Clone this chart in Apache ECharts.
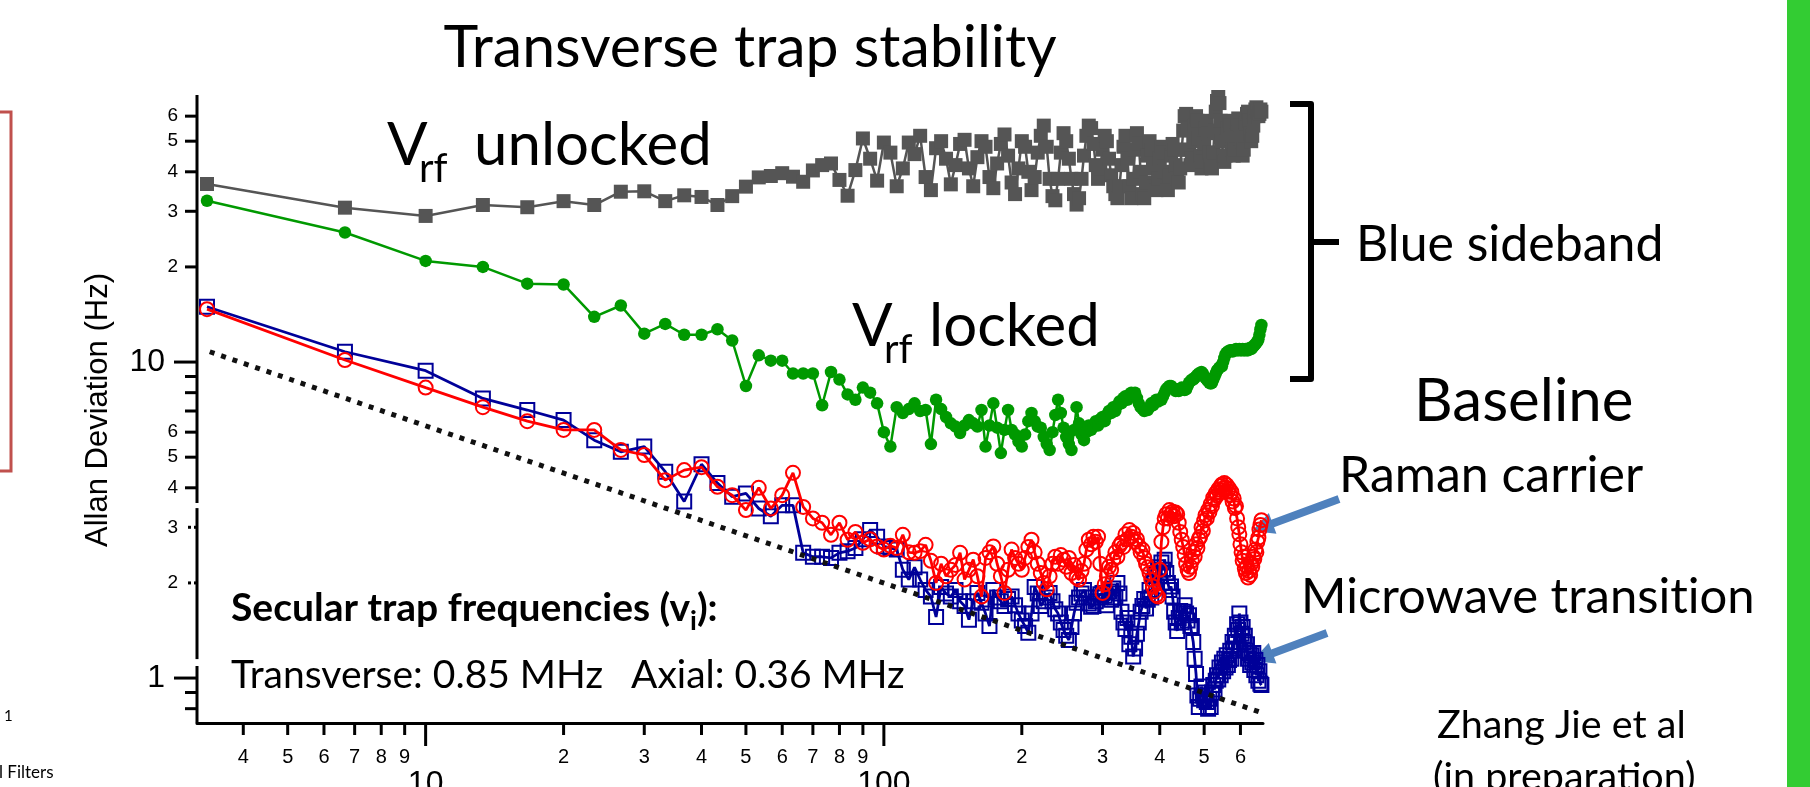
<!DOCTYPE html>
<html>
<head>
<meta charset="utf-8">
<title>Transverse trap stability</title>
<script src="https://cdn.jsdelivr.net/npm/echarts@6/dist/echarts.min.js"></script>
<style>
  html, body { margin: 0; padding: 0; background: #ffffff; }
  #chart { width: 1810px; height: 787px; }
</style>
</head>
<body>
<div id="chart"></div>
<script>
// Averaging time step (s); the k-th point of every curve sits at k * TAU0.
const TAU0 = 10 / 3;

// Allan deviation (Hz), blue sideband with the RF voltage free running
const unlockedSideband = [
  36.6, 30.8, 29.0, 31.4, 30.9, 32.3, 31.4, 34.6, 34.7, 32.3,
  33.7, 33.3, 31.4, 33.5, 35.9, 38.4, 38.8, 39.6, 38.6, 37.2,
  40.4, 42.0, 42.5, 37.7, 33.6, 40.5, 51.0, 44.0, 37.5, 49.5,
  46.0, 36.0, 41.0, 49.5, 45.5, 52.0, 38.5, 35.0, 47.5, 50.0,
  44.0, 36.5, 42.0, 49.0, 50.5, 41.0, 36.0, 44.5, 50.0, 48.0,
  38.5, 35.5, 42.5, 49.0, 52.5, 45.0, 37.0, 34.0, 41.0, 50.0,
  48.0, 40.0, 35.0, 38.5, 46.0, 52.0, 56.0, 48.0, 38.0, 33.5,
  32.5, 38.0, 46.0, 53.0, 50.0, 44.0, 38.0, 34.0, 31.5, 33.0,
  38.0, 45.0, 52.0, 56.0, 55.0, 49.0, 42.0, 38.0, 41.0, 47.0,
  52.0, 50.0, 44.0, 39.0, 36.0, 34.0, 33.0, 36.0, 42.0, 48.0,
  52.0, 44.0, 36.0, 33.0, 38.0, 47.0, 53.0, 49.0, 40.0, 34.0,
  33.0, 37.0, 45.0, 50.0, 47.0, 41.0, 36.0, 35.0, 38.0, 44.0,
  48.0, 46.0, 40.0, 36.0, 35.0, 39.0, 45.0, 49.0, 47.0, 42.0,
  38.0, 37.0, 41.0, 47.0, 54.0, 60.0, 61.0, 55.0, 47.0, 42.0,
  44.0, 50.0, 56.0, 60.0, 58.0, 51.0, 45.0, 41.0, 43.0, 49.0,
  55.0, 58.0, 53.0, 46.0, 42.0, 41.0, 46.0, 54.0, 62.0, 67.0,
  69.0, 66.0, 58.0, 50.0, 45.0, 43.0, 45.0, 50.0, 55.0, 58.0,
  56.0, 51.0, 47.0, 45.0, 47.0, 52.0, 57.0, 59.0, 56.0, 51.0,
  47.0, 45.0, 47.0, 52.0, 57.0, 61.0, 62.0, 58.0, 53.0, 50.0,
  52.0, 56.0, 60.0, 63.0, 64.0, 62.0, 60.0, 61.0, 63.0, 62.0
];

// Allan deviation (Hz), blue sideband with the RF voltage locked
const lockedSideband = [
  32.4, 25.7, 20.9, 20.0, 17.7, 17.6, 13.9, 15.1, 12.3, 13.2,
  12.2, 12.2, 12.7, 11.7, 8.4, 10.5, 10.1, 10.1, 9.2, 9.2,
  9.2, 7.3, 9.3, 8.8, 7.9, 7.6, 8.3, 8.0, 7.4, 6.0,
  5.4, 7.2, 6.9, 7.1, 7.4, 7.0, 7.05, 5.5, 7.6, 7.1,
  6.7, 6.4, 6.25, 5.96, 6.3, 6.55, 6.4, 6.25, 7.05, 5.4,
  6.3, 7.4, 6.2, 5.15, 6.1, 7.05, 6.1, 5.9, 5.6, 5.4,
  5.9, 6.5, 6.9, 6.5, 6.25, 6.2, 5.8, 5.5, 5.27, 6.0,
  6.8, 7.6, 6.9, 6.2, 5.8, 5.5, 5.27, 6.1, 7.2, 6.4,
  5.9, 5.66, 6.0, 6.3, 6.1, 6.25, 6.5, 6.3, 6.6, 6.7,
  6.5, 6.8, 7.0, 6.9, 7.2, 7.0, 7.3, 7.5, 7.4, 7.7,
  7.8, 7.6, 7.9, 8.0, 7.8, 8.0, 7.7, 7.4, 7.2, 7.1,
  7.0, 7.1, 7.05, 7.2, 7.4, 7.3, 7.5, 7.6, 7.5, 7.6,
  7.6, 7.8, 8.0, 8.2, 8.3, 8.4, 8.4, 8.3, 8.2, 8.1,
  8.2, 8.1, 8.2, 8.3, 8.2, 8.15, 8.2, 8.4, 8.6, 8.7,
  8.8, 8.8, 8.9, 9.0, 9.1, 9.2, 9.2, 9.3, 9.2, 9.0,
  8.9, 8.8, 8.7, 8.6, 8.55, 8.6, 8.8, 9.0, 9.2, 9.4,
  9.5, 9.6, 9.7, 9.7, 10.0, 10.3, 10.6, 10.7, 10.8, 10.8,
  10.9, 10.9, 10.8, 10.9, 10.9, 11.0, 10.9, 10.9, 11.0, 10.9,
  10.9, 11.0, 10.9, 10.9, 11.0, 10.9, 10.9, 11.0, 11.1, 11.0,
  11.1, 11.2, 11.3, 11.4, 11.5, 11.6, 11.8, 12.2, 12.7, 13.1
];

// Allan deviation (Hz), microwave transition
const microwaveTransition = [
  14.96, 10.78, 9.39, 7.67, 7.05, 6.55, 5.66, 5.2, 5.4, 4.5,
  3.62, 4.75, 4.14, 3.75, 3.84, 3.44, 3.25, 3.52, 3.52, 2.49,
  2.42, 2.42, 2.4, 2.49, 2.52, 2.58, 2.75, 2.94, 2.8, 2.61,
  2.58, 2.55, 2.2, 2.05, 2.24, 2.05, 1.9, 1.81, 1.56, 1.94,
  1.85, 1.81, 1.9, 1.75, 1.69, 1.53, 1.75, 1.86, 1.73, 1.6,
  1.46, 1.9, 1.8, 1.75, 1.69, 1.78, 1.81, 1.7, 1.6, 1.52,
  1.46, 1.39, 1.6, 1.94, 1.85, 1.69, 1.75, 1.8, 1.86, 1.75,
  1.65, 1.6, 1.5, 1.42, 1.36, 1.32, 1.45, 1.6, 1.73, 1.8,
  1.85, 1.9, 1.8, 1.72, 1.68, 1.69, 1.75, 1.8, 1.84, 1.86,
  1.82, 1.7, 1.88, 1.77, 1.92, 1.8, 2.0, 1.85, 1.62, 1.5,
  1.43, 1.55, 1.28, 1.35, 1.17, 1.24, 1.38, 1.5, 1.62, 1.69,
  1.78, 1.66, 1.77, 1.9, 1.8, 2.0, 2.12, 1.95, 2.24, 2.1,
  2.32, 2.2, 2.37, 2.15, 2.0, 1.9, 1.95, 1.81, 1.62, 1.5,
  1.41, 1.55, 1.63, 1.5, 1.62, 1.7, 1.6, 1.52, 1.58, 1.46,
  1.46, 1.3, 1.15, 1.03, 0.88, 0.81, 0.86, 0.94, 0.88, 0.85,
  0.9, 0.84, 0.8, 0.86, 0.81, 0.9, 0.95, 0.92, 0.98, 1.02,
  0.99, 1.08, 1.02, 1.12, 1.05, 1.15, 1.08, 1.18, 1.1, 1.14,
  1.22, 1.15, 1.3, 1.24, 1.36, 1.3, 1.48, 1.42, 1.6, 1.5,
  1.38, 1.45, 1.3, 1.36, 1.22, 1.28, 1.15, 1.2, 1.1, 1.18,
  1.12, 1.2, 1.06, 1.14, 1.02, 1.1, 0.98, 1.05, 0.96, 0.95
];

// Allan deviation (Hz), Raman carrier
const ramanCarrier = [
  14.7, 10.15, 8.3, 7.2, 6.5, 6.1, 6.1, 5.27, 5.08, 4.23,
  4.55, 4.65, 4.03, 3.79, 3.4, 4.0, 3.44, 3.79, 4.46, 3.48,
  3.2, 3.1, 2.84, 3.1, 2.74, 2.9, 2.68, 2.75, 2.61, 2.55,
  2.62, 2.58, 2.84, 2.5, 2.49, 2.52, 2.64, 2.35, 2.0, 2.3,
  2.1, 2.2, 2.28, 2.49, 2.05, 2.2, 2.37, 2.1, 1.81, 2.4,
  2.5, 2.61, 2.3, 2.1, 1.86, 2.2, 2.55, 2.4, 2.3, 2.2,
  2.4, 2.6, 2.74, 2.5, 2.3, 2.15, 2.0, 1.91, 2.1, 2.3,
  2.42, 2.3, 2.45, 2.37, 2.25, 2.4, 2.15, 2.28, 2.08, 2.05,
  2.18, 2.3, 2.55, 2.74, 2.65, 2.8, 2.7, 2.8, 2.3, 1.86,
  1.98, 2.1, 2.25, 2.2, 2.37, 2.5, 2.42, 2.62, 2.68, 2.6,
  2.85, 2.75, 2.94, 2.8, 2.88, 2.7, 2.75, 2.62, 2.5, 2.55,
  2.4, 2.3, 2.24, 2.15, 2.05, 1.95, 1.88, 1.83, 1.81, 2.2,
  2.7, 3.0, 3.2, 3.3, 3.2, 3.4, 3.3, 3.36, 3.25, 3.34,
  3.3, 3.1, 2.9, 2.74, 2.6, 2.45, 2.3, 2.2, 2.15, 2.25,
  2.35, 2.5, 2.42, 2.65, 2.58, 2.75, 2.8, 3.0, 2.92, 3.15,
  3.28, 3.2, 3.4, 3.35, 3.55, 3.5, 3.72, 3.68, 3.85, 3.78,
  3.95, 3.88, 4.05, 4.1, 3.98, 4.14, 4.0, 4.08, 3.9, 3.98,
  3.8, 3.88, 3.62, 3.7, 3.45, 3.5, 3.2, 3.0, 2.85, 2.65,
  2.5, 2.35, 2.42, 2.22, 2.15, 2.25, 2.08, 2.18, 2.12, 2.3,
  2.25, 2.42, 2.38, 2.55, 2.5, 2.7, 2.78, 2.95, 3.05, 3.16
];

// Guide line for white frequency noise (tau^-1/2): end points [tau, Hz]
const whiteNoiseGuide = [[3.38, 10.78], [662, 0.78]];

// Axis ranges
const X_MIN = 3.17, X_MAX = 672;
const Y_MIN = 0.7207, Y_MAX = 70;

// Tick values
const xMinorTicks = [4, 5, 6, 7, 8, 9, 20, 30, 40, 50, 60, 70, 80, 90, 200, 300, 400, 500, 600];
const xMajorTicks = [10, 100];
const yLabeledTicks = [60, 50, 40, 30, 20, 6, 5, 4];
const yMajorTicks = [10, 1];
const yPlainTicks = [9, 8, 7, 0.9, 0.8];
const yDottedTicks = [3, 2];
// Pieces of the broken left axis, as [top, bottom] in Hz
const yAxisPieces = [[Y_MAX, 3.58], [3.45, 1.148], [1.092, Y_MIN]];

const averagingTimes = unlockedSideband.map((_, i) => TAU0 * (i + 1));
const pairs = (vals) => vals.map((v, i) => [averagingTimes[i], v]);
const leadDigit = (v) => String(v).charAt(0);

const TICK_FONT = '19px "Liberation Sans", Arial, sans-serif';
const X_TICK_FONT = '20px "Liberation Sans", Arial, sans-serif';
const BIG_TICK_FONT = '32px "Liberation Sans", Arial, sans-serif';

function xTicks(values, len, font, gap, labelOf) {
  return {
    type: 'custom', silent: true, z: 6, clip: false,
    data: values.map(v => [v, Y_MIN]),
    renderItem(params, api) {
      const p = api.coord([api.value(0), api.value(1)]);
      const children = [{
        type: 'line',
        shape: { x1: p[0], y1: p[1], x2: p[0], y2: p[1] + len },
        style: { stroke: '#000', lineWidth: 3 }
      }];
      if (labelOf) {
        children.push({
          type: 'text', x: p[0], y: p[1] + gap,
          style: { legacy: false, text: labelOf(api.value(0)), font, fill: '#000', align: 'center', verticalAlign: 'top' }
        });
      }
      return { type: 'group', children };
    }
  };
}

function yTicks(values, len, font, gap, labelOf, dash) {
  return {
    type: 'custom', silent: true, z: 6, clip: false,
    data: values.map(v => [X_MIN, v]),
    renderItem(params, api) {
      const p = api.coord([api.value(0), api.value(1)]);
      const children = [{
        type: 'line',
        shape: { x1: p[0], y1: p[1], x2: p[0] - len, y2: p[1] },
        style: { stroke: '#000', lineWidth: 3, lineDash: dash || null }
      }];
      if (labelOf) {
        children.push({
          type: 'text', x: p[0] - gap, y: p[1],
          style: { legacy: false, text: labelOf(api.value(1)), font, fill: '#000', align: 'right', verticalAlign: 'middle' }
        });
      }
      return { type: 'group', children };
    }
  };
}

const brokenYAxis = {
  type: 'custom', silent: true, z: 6, clip: false,
  data: yAxisPieces.map(s => [X_MIN, s[0], s[1]]),
  renderItem(params, api) {
    const a = api.coord([api.value(0), api.value(1)]);
    const b = api.coord([api.value(0), api.value(2)]);
    return {
      type: 'line',
      shape: { x1: a[0], y1: a[1], x2: b[0], y2: b[1] },
      style: { stroke: '#000', lineWidth: 3 }
    };
  }
};

function curve(name, vals, color, symbol, size, filled, width, z) {
  return {
    name, type: 'line', data: pairs(vals), z,
    clip: false, showSymbol: true, showAllSymbol: true,
    symbol, symbolSize: size,
    lineStyle: { color, width },
    itemStyle: filled
      ? { color }
      : { color: 'rgba(255,255,255,0)', borderColor: color, borderWidth: 2 },
    emphasis: { disabled: true }
  };
}

// Annotation helpers
const SLIDE_FONT = 'Lato, "Open Sans", sans-serif';
function label(x, y, text, size, align) {
  return {
    type: 'text', x, y, silent: true,
    style: { text, font: size + 'px ' + SLIDE_FONT, fill: '#000', align: align || 'left', verticalAlign: 'middle' }
  };
}
function arrowPoints(tail, tip, shaft, headW, headL) {
  const dx = tip[0] - tail[0], dy = tip[1] - tail[1];
  const L = Math.hypot(dx, dy), ux = dx / L, uy = dy / L, nx = -uy, ny = ux;
  const bx = tip[0] - ux * headL, by = tip[1] - uy * headL;
  const s = shaft / 2, h = headW / 2;
  return [
    [tail[0] + nx * s, tail[1] + ny * s], [bx + nx * s, by + ny * s], [bx + nx * h, by + ny * h],
    tip, [bx - nx * h, by - ny * h], [bx - nx * s, by - ny * s], [tail[0] - nx * s, tail[1] - ny * s]
  ];
}
const measure = (() => {
  const ctx = document.createElement('canvas').getContext('2d');
  return (text, font) => { ctx.font = font; return ctx.measureText(text).width; };
})();

// Bold heading with a subscript, laid out piece by piece
const headFont = 'bold 39px ' + SLIDE_FONT;
const subFont = 'bold 27px ' + SLIDE_FONT;
const headX = 231, headY = 608;
const headMain = 'Secular trap frequencies (v';
const headW1 = measure(headMain, headFont);
const headW2 = measure('i', subFont);

const ARROW_BLUE = '#4f81bd';

const yTitle = {
  type: 'text', x: 98, y: 410, rotation: Math.PI / 2, silent: true,
  style: { text: 'Allan Deviation (Hz)', font: '31px "Liberation Sans", Arial, sans-serif', fill: '#000', align: 'center', verticalAlign: 'middle' }
};

const graphics = [
  { type: 'rect', shape: { x: 1787, y: 0, width: 23, height: 787 }, style: { fill: '#33cc33' }, silent: true },
  { type: 'rect', shape: { x: -6, y: 112, width: 17, height: 359 }, style: { fill: null, stroke: '#c0504d', lineWidth: 3 }, silent: true },
  label(4, 716, '1', 15),
  label(-1, 773, 'l Filters', 17),

  label(750, 48, 'Transverse trap stability', 59, 'center'),
  yTitle,

  label(387, 146, 'V', 60),
  label(419, 169, 'rf', 40),
  label(474, 146, 'unlocked', 60),
  label(852, 327, 'V', 60),
  label(884, 350, 'rf', 40),
  label(929, 327, 'locked', 60),

  { type: 'polyline', silent: true,
    shape: { points: [[1290, 104], [1311, 104], [1311, 379], [1290, 379]] },
    style: { stroke: '#000', lineWidth: 6, fill: null, lineJoin: 'round' } },
  { type: 'line', silent: true,
    shape: { x1: 1311, y1: 242, x2: 1339, y2: 242 },
    style: { stroke: '#000', lineWidth: 6 } },
  label(1356, 245, 'Blue sideband', 50),

  label(1414, 402, 'Baseline', 60),
  label(1339, 476, 'Raman carrier', 50),
  // zero-width non-joiner keeps "t" and "i" as separate glyphs
  label(1301, 597, 'Microwave transit\u200Cion', 49),
  { type: 'polygon', silent: true, shape: { points: arrowPoints([1339, 499], [1252, 531], 8, 22, 22) }, style: { fill: ARROW_BLUE } },
  { type: 'polygon', silent: true, shape: { points: arrowPoints([1327, 633], [1252, 661], 8, 22, 22) }, style: { fill: ARROW_BLUE } },

  label(1437, 725, 'Zhang Jie et al', 39.5),
  label(1433, 777, '(in preparation)', 39.5),

  { type: 'text', x: headX, y: headY, silent: true,
    style: { text: headMain, font: headFont, fill: '#000', align: 'left', verticalAlign: 'middle' } },
  { type: 'text', x: headX + headW1, y: headY + 13, silent: true,
    style: { text: 'i', font: subFont, fill: '#000', align: 'left', verticalAlign: 'middle' } },
  { type: 'text', x: headX + headW1 + headW2, y: headY, silent: true,
    style: { text: '):', font: headFont, fill: '#000', align: 'left', verticalAlign: 'middle' } },
  label(231, 675, 'Transverse: 0.85 MHz', 39),
  label(631, 675, 'Axial: 0.36 MHz', 39)
];

const chart = echarts.init(document.getElementById('chart'), null, { renderer: 'canvas' });
chart.setOption({
  animation: false,
  backgroundColor: '#ffffff',
  grid: { left: 197, right: 547, top: 95, bottom: 64, containLabel: false },
  xAxis: {
    type: 'log', logBase: 10, min: X_MIN, max: X_MAX,
    axisLine: { show: true, onZero: false, lineStyle: { color: '#000', width: 3 } },
    axisTick: { show: false }, axisLabel: { show: false },
    splitLine: { show: false }, minorTick: { show: false }
  },
  yAxis: {
    type: 'log', logBase: 10, min: Y_MIN, max: Y_MAX,
    axisLine: { show: false }, axisTick: { show: false }, axisLabel: { show: false },
    splitLine: { show: false }
  },
  graphic: { elements: graphics },
  series: [
    brokenYAxis,
    xTicks(xMinorTicks, 12, X_TICK_FONT, 24, leadDigit),
    xTicks(xMajorTicks, 23, BIG_TICK_FONT, 45, v => String(v)),
    yTicks(yLabeledTicks, 12, TICK_FONT, 19, leadDigit),
    yTicks(yMajorTicks, 23, BIG_TICK_FONT, 32, v => String(v)),
    yTicks(yPlainTicks, 12, TICK_FONT, 19, null),
    yTicks(yDottedTicks, 12, TICK_FONT, 19, leadDigit, [3, 3]),
    curve('Vrf unlocked', unlockedSideband, '#555555', 'rect', 14, true, 2.5, 2),
    curve('Vrf locked', lockedSideband, '#009900', 'circle', 12.5, true, 2.5, 2),
    curve('Microwave transition', microwaveTransition, '#000099', 'rect', 14, false, 2.8, 3),
    curve('Raman carrier', ramanCarrier, '#ff0000', 'circle', 14, false, 2.8, 4),
    {
      name: 'white noise', type: 'line', data: whiteNoiseGuide, z: 5, clip: false,
      showSymbol: false, symbol: 'none',
      lineStyle: { color: '#111', width: 5, type: [5, 7] },
      emphasis: { disabled: true }
    }
  ]
});
</script>
</body>
</html>
